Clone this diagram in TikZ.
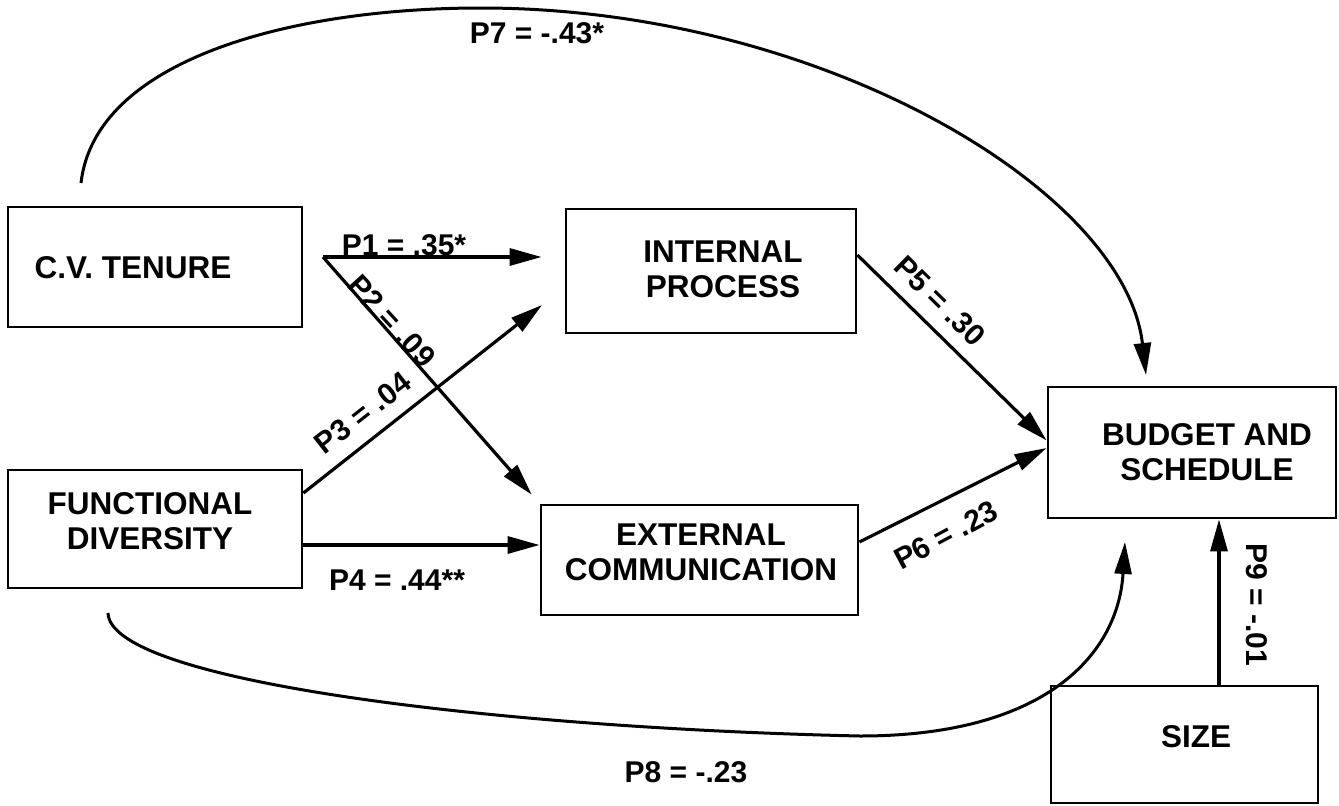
\documentclass[tikz,border=0pt]{standalone}
\usepackage{fontspec}
\setmainfont{Liberation Sans}
\usetikzlibrary{arrows.meta}
\begin{document}
\begin{tikzpicture}[x=1pt,y=-1pt,
  box/.style={draw, line width=2.8pt, inner sep=0pt},
  txt/.style={font=\fontsize{31.5}{35}\selectfont\bfseries, align=center, inner sep=0pt},
  lbl/.style={font=\fontsize{30}{34}\selectfont\bfseries, inner sep=0pt},
  arr/.style={line width=3.2pt, -{Triangle[length=32pt,width=17pt]}},
  curv/.style={line width=3pt, -{Triangle[length=32pt,width=17pt]}}]
\useasboundingbox (0,0) rectangle (1339,806);
% boxes
\node[box, minimum width=294pt, minimum height=120pt] (cv) at (155,267) {};
\node[box, minimum width=294pt, minimum height=118pt] (fd) at (155,529) {};
\node[box, minimum width=290pt, minimum height=124pt] (ip) at (711,271) {};
\node[box, minimum width=317pt, minimum height=110pt] (ec) at (699.5,560) {};
\node[box, minimum width=288pt, minimum height=131pt] (bs) at (1192,452.5) {};
\node[box, minimum width=267pt, minimum height=117pt] (sz) at (1184.5,744.5) {};
% box texts
\node[txt] (cvt) at (133,268) {C.V. TENURE};
\node[txt] (fdt) at (150,521) {FUNCTIONAL\\DIVERSITY};
\node[txt] (ipt) at (723,269) {INTERNAL\\PROCESS};
\node[txt] (ect) at (701,552) {EXTERNAL\\COMMUNICATION};
\node[txt] (bst) at (1207,452) {BUDGET AND\\SCHEDULE};
\node[txt] (szt) at (1196,737) {SIZE};
% connectors
\coordinate (fork) at (323,257);
\coordinate (p3end) at (542,305);
\coordinate (p7start) at (81,183);
\coordinate (p7top) at (481,8);
\coordinate (p7end) at (1146,375);
\coordinate (p8start) at (108,613);
\coordinate (p8low) at (860,736);
\coordinate (p8end) at (1125,542);
\draw[arr, shorten >=23pt] (fork) -- (fork -| ip.west);
\draw[arr, shorten >=12pt] (fork) -- (ec.north west);
\draw[arr] ([yshift=36pt]fd.east) -- (p3end);
\draw[arr] ([yshift=-16pt]fd.east) -- ([yshift=15pt]ec.west);
\draw[arr] ([yshift=16pt]ip.east) -- ([yshift=12pt]bs.west);
\draw[arr] ([yshift=18pt]ec.east) -- ([yshift=4.5pt]bs.west);
\draw[arr] ([xshift=34.5pt]sz.north) -- ([xshift=27pt]bs.south);
\draw[curv] (p7start) .. controls (95,60) and (290,8) .. (p7top)
  .. controls (820,8) and (1125,190) .. (p7end);
\draw[curv] (p8start) .. controls (110,682) and (500,728) .. (p8low)
  .. controls (1045,736) and (1118,655) .. (p8end);
% labels
\node[lbl] (l1) at (404,245) {P1 = .35*};
\node[lbl, rotate=-47.5] (l2) at (392,321) {P2 = .09};
\node[lbl, rotate=38] (l3) at (363,413) {P3 = .04};
\node[lbl] (l4) at (397,580) {P4 = .44**};
\node[lbl, rotate=-44.5] (l5) at (940,301) {P5 = .30};
\node[lbl, rotate=28] (l6) at (946,535) {P6 = .23};
\node[lbl] (l7) at (537,33) {P7 = -.43*};
\node[lbl] (l8) at (686,772) {P8 = -.23};
\node[lbl, rotate=-90] (l9) at (1257,605) {P9 = -.01};
\end{tikzpicture}
\end{document}
